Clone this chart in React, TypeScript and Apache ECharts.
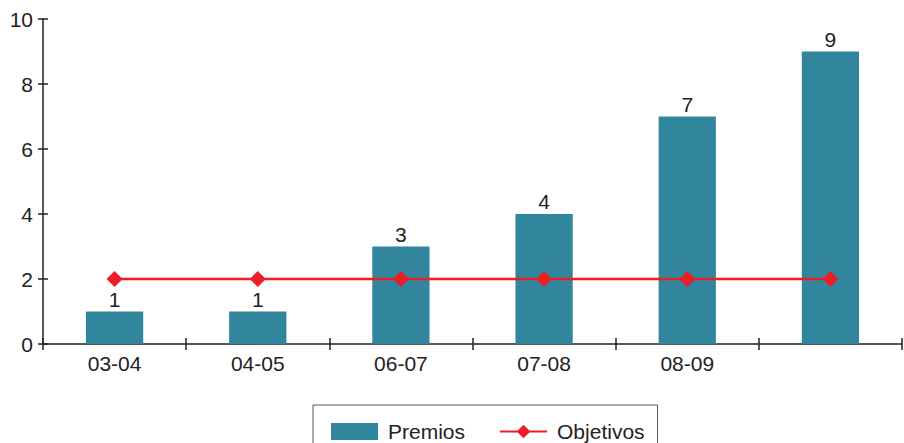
import React, { useEffect, useRef } from "react";
import * as echarts from "echarts";

const categories = ["03-04", "04-05", "06-07", "07-08", "08-09", ""];
const premios = [1, 1, 3, 4, 7, 9];
const objetivos = [2, 2, 2, 2, 2, 2];
const yMin = 0;
const yMax = 10;
const yInterval = 2;

export default function App() {
  const ref = useRef<HTMLDivElement>(null);
  useEffect(() => {
    if (!ref.current) return;
    const chart = echarts.init(ref.current, null, { renderer: "svg" });
    const font = "Liberation Sans, Arial, sans-serif";
    const axisColor = "#222";
    const fs = 21;
    chart.setOption({
      animation: false,
      textStyle: { fontFamily: font },
      grid: { left: 43, right: 2, top: 19, bottom: 99, containLabel: false },
      legend: {
        left: 313,
        top: 405,
        padding: [16, 13, 15, 18],
        itemGap: 34,
        itemWidth: 47,
        itemHeight: 17,
        borderColor: "#555",
        borderWidth: 1,
        textStyle: { fontSize: fs, color: "#222", fontFamily: font, padding: [0, 0, 0, 5] },
        data: [
          { name: "Premios", icon: "rect" },
          { name: "Objetivos" },
        ],
      },
      xAxis: [
        {
          type: "category",
          data: categories,
          boundaryGap: true,
          axisLine: { lineStyle: { color: axisColor, width: 1.5 } },
          axisTick: { show: true, length: 6, lineStyle: { color: axisColor, width: 1.5 } },
          axisLabel: { fontSize: fs, color: "#222", margin: 9, fontFamily: font },
        },
        {
          type: "category",
          data: categories,
          position: "bottom",
          boundaryGap: true,
          axisLine: { show: false },
          axisTick: { show: true, inside: true, length: 6, lineStyle: { color: axisColor, width: 1.5 } },
          axisLabel: { show: false },
        },
      ],
      yAxis: [
        {
          type: "value",
          min: yMin,
          max: yMax,
          interval: yInterval,
          axisLine: { show: true, lineStyle: { color: axisColor, width: 1.5 } },
          axisTick: { show: true, length: 5, lineStyle: { color: axisColor, width: 1.5 } },
          axisLabel: { fontSize: fs, color: "#222", margin: 10, fontFamily: font },
          splitLine: { show: false },
        },
        {
          type: "value",
          min: yMin,
          max: yMax,
          interval: yInterval,
          position: "left",
          axisLine: { show: false },
          axisTick: { show: true, inside: true, length: 5, lineStyle: { color: axisColor, width: 1.5 } },
          axisLabel: { show: false },
          splitLine: { show: false },
        },
      ],
      series: [
        {
          name: "Premios",
          type: "bar",
          data: premios,
          barWidth: "40%",
          itemStyle: { color: "#31869e" },
          label: {
            show: true,
            position: "top",
            distance: 2,
            fontSize: fs,
            color: "#222",
            fontFamily: font,
          },
        },
        {
          name: "Objetivos",
          type: "line",
          data: objetivos,
          symbol: "diamond",
          symbolSize: 16,
          lineStyle: { color: "#ee1c25", width: 2.5 },
          itemStyle: { color: "#ee1c25" },
          z: 5,
        },
      ],
    });
    return () => chart.dispose();
  }, []);
  return <div ref={ref} style={{ width: 904, height: 443, position: "absolute", left: 0, top: 0 }} />;
}
